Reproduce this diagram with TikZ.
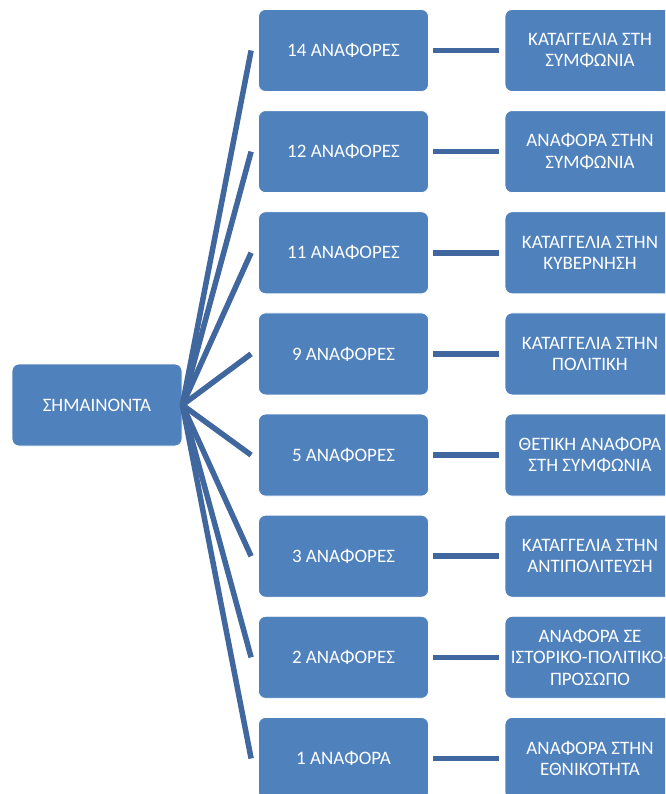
\documentclass[tikz,border=0pt]{standalone}
\usepackage{fontspec}
\setmainfont{Carlito}
\definecolor{boxblue}{RGB}{79,129,189}
\definecolor{linkblue}{RGB}{65,104,158}
\tikzset{
  box/.style={draw=white, line width=0.8pt, fill=boxblue, rounded corners=7pt,
    minimum width=170pt, minimum height=82pt, inner sep=2pt, text=white,
    font=\fontsize{19}{21.5}\selectfont, align=center, anchor=center},
  link/.style={draw=linkblue, line width=5.5pt},
}
\begin{document}
\begin{tikzpicture}[x=1pt,y=-1pt]
\useasboundingbox (0,0) rectangle (665,794);
\clip (0,0) rectangle (665,794);
\node[box] (root) at (97,405) {ΣΗΜΑΙΝΟΝΤΑ};
\foreach \i/\m/\r in {0/14 ΑΝΑΦΟΡΕΣ/{ΚΑΤΑΓΓΕΛΙΑ ΣΤΗ\\ΣΥΜΦΩΝΙΑ},
  1/12 ΑΝΑΦΟΡΕΣ/{ΑΝΑΦΟΡΑ ΣΤΗΝ\\ΣΥΜΦΩΝΙΑ},
  2/11 ΑΝΑΦΟΡΕΣ/{ΚΑΤΑΓΓΕΛΙΑ ΣΤΗΝ\\ΚΥΒΕΡΝΗΣΗ},
  3/9 ΑΝΑΦΟΡΕΣ/{ΚΑΤΑΓΓΕΛΙΑ ΣΤΗΝ\\ΠΟΛΙΤΙΚΗ},
  4/5 ΑΝΑΦΟΡΕΣ/{ΘΕΤΙΚΗ ΑΝΑΦΟΡΑ\\ΣΤΗ ΣΥΜΦΩΝΙΑ},
  5/3 ΑΝΑΦΟΡΕΣ/{ΚΑΤΑΓΓΕΛΙΑ ΣΤΗΝ\\ΑΝΤΙΠΟΛΙΤΕΥΣΗ},
  6/2 ΑΝΑΦΟΡΕΣ/{ΑΝΑΦΟΡΑ ΣΕ\\ΙΣΤΟΡΙΚΟ-ΠΟΛΙΤΙΚΟ-\\ΠΡΟΣΩΠΟ},
  7/1 ΑΝΑΦΟΡΑ/{ΑΝΑΦΟΡΑ ΣΤΗΝ\\ΕΘΝΙΚΟΤΗΤΑ}} {
  \pgfmathsetmacro{\yy}{50.5+101.14*\i}
  \node[box] (m\i) at (343.5,\yy) {\m};
  \node[box] (r\i) at (590,\yy) {\r};
  \draw[link] (root.east) -- ([xshift=-7pt]m\i.west);
  \draw[link, shorten <=4pt, shorten >=6pt] (m\i.east) -- (r\i.west);
}
\end{tikzpicture}
\end{document}
